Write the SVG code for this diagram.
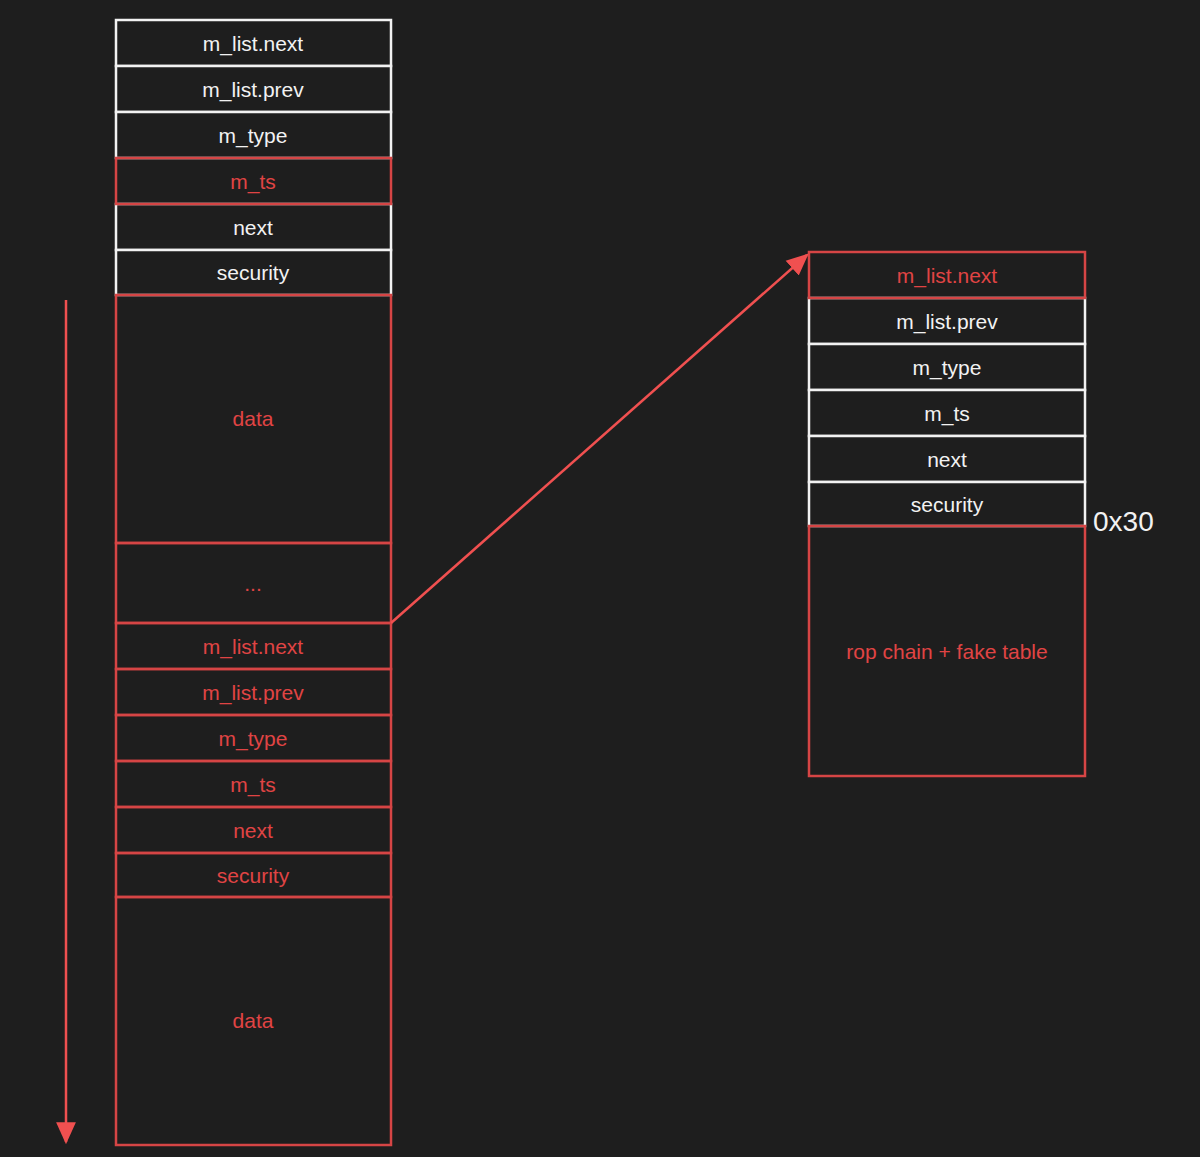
<svg xmlns="http://www.w3.org/2000/svg" width="1200" height="1157" viewBox="0 0 1200 1157">
<defs>
<style>
.w{fill:#1e1e1e;stroke:#f2f2f2;stroke-width:2.5}
.r{fill:none;stroke:#d64545;stroke-width:2.5}
.tw{fill:#f2f2f2;font-family:"Liberation Sans",sans-serif;font-size:21px;text-anchor:middle;dominant-baseline:central}
.tr{fill:#e04444;font-family:"Liberation Sans",sans-serif;font-size:21px;text-anchor:middle;dominant-baseline:central}
.conn{stroke:#f05050;stroke-width:2.5;fill:none}
</style>
<marker id="ah2" viewBox="0 0 20 20" refX="18" refY="10" markerWidth="22" markerHeight="22" markerUnits="userSpaceOnUse" orient="auto">
<path d="M0,1 L20,10 L0,19 Z" fill="#f05050"/>
</marker>
</defs>
<rect width="1200" height="1157" fill="#1e1e1e"/>

<g id="left-struct">
<g id="l-mlistnext"><rect class="w" x="116" y="20" width="275" height="46"/><text class="tw" x="253" y="43">m_list.next</text></g>
<g id="l-mlistprev"><rect class="w" x="116" y="66" width="275" height="46"/><text class="tw" x="253" y="89">m_list.prev</text></g>
<g id="l-mtype"><rect class="w" x="116" y="112" width="275" height="46"/><text class="tw" x="253" y="135">m_type</text></g>
<g id="l-next"><rect class="w" x="116" y="204" width="275" height="46"/><text class="tw" x="253" y="227">next</text></g>
<g id="l-security"><rect class="w" x="116" y="250" width="275" height="45"/><text class="tw" x="253" y="272">security</text></g>
<g id="l-mts"><rect class="r" x="116" y="158" width="275" height="46"/><text class="tr" x="253" y="181">m_ts</text></g>
<g id="l-data"><rect class="r" x="116" y="295" width="275" height="248"/><text class="tr" x="253" y="418">data</text></g>
<g id="l-dots"><rect class="r" x="116" y="543" width="275" height="80"/><text class="tr" x="253" y="583">...</text></g>
<g id="l2-mlistnext"><rect class="r" x="116" y="623" width="275" height="46"/><text class="tr" x="253" y="646">m_list.next</text></g>
<g id="l2-mlistprev"><rect class="r" x="116" y="669" width="275" height="46"/><text class="tr" x="253" y="692">m_list.prev</text></g>
<g id="l2-mtype"><rect class="r" x="116" y="715" width="275" height="46"/><text class="tr" x="253" y="738">m_type</text></g>
<g id="l2-mts"><rect class="r" x="116" y="761" width="275" height="46"/><text class="tr" x="253" y="784">m_ts</text></g>
<g id="l2-next"><rect class="r" x="116" y="807" width="275" height="46"/><text class="tr" x="253" y="830">next</text></g>
<g id="l2-security"><rect class="r" x="116" y="853" width="275" height="44"/><text class="tr" x="253" y="875">security</text></g>
<g id="l2-data"><rect class="r" x="116" y="897" width="275" height="248"/><text class="tr" x="253" y="1020">data</text></g>
</g>

<g id="right-struct">
<g id="r-mlistprev"><rect class="w" x="809" y="298" width="276" height="46"/><text class="tw" x="947" y="321">m_list.prev</text></g>
<g id="r-mtype"><rect class="w" x="809" y="344" width="276" height="46"/><text class="tw" x="947" y="367">m_type</text></g>
<g id="r-mts"><rect class="w" x="809" y="390" width="276" height="46"/><text class="tw" x="947" y="413">m_ts</text></g>
<g id="r-next"><rect class="w" x="809" y="436" width="276" height="46"/><text class="tw" x="947" y="459">next</text></g>
<g id="r-security"><rect class="w" x="809" y="482" width="276" height="44"/><text class="tw" x="947" y="504">security</text></g>
<g id="r-mlistnext"><rect class="r" x="809" y="252" width="276" height="46"/><text class="tr" x="947" y="275">m_list.next</text></g>
<g id="r-rop"><rect class="r" x="809" y="526" width="276" height="250"/><text class="tr" x="947" y="651">rop chain + fake table</text></g>
</g>

<g id="label-0x30"><text x="1093" y="521" fill="#f2f2f2" font-family="Liberation Sans,sans-serif" font-size="28" dominant-baseline="central">0x30</text></g>

<g id="connectors">
<line class="conn" x1="66" y1="300" x2="66" y2="1142" marker-end="url(#ah2)"/>
<line class="conn" x1="391" y1="623" x2="807" y2="255" marker-end="url(#ah2)"/>
</g>
</svg>
